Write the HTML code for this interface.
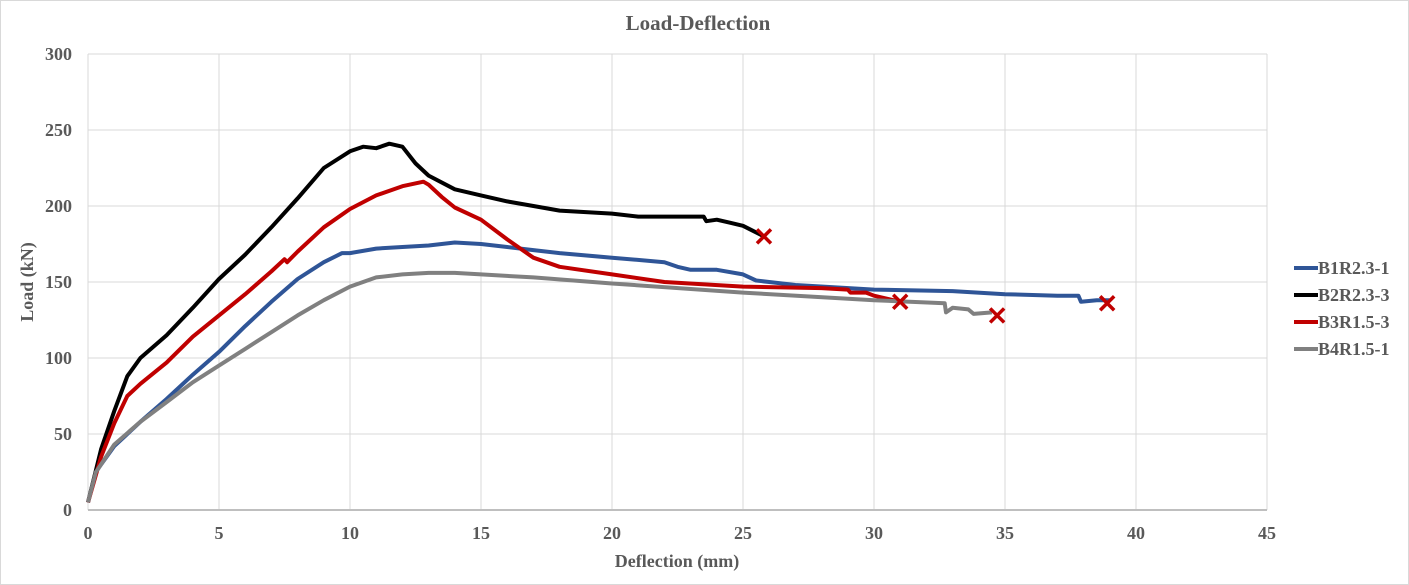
<!DOCTYPE html>
<html><head><meta charset="utf-8"><style>
body{margin:0;background:#fff}
svg{display:block;font-family:"Liberation Serif",serif;font-weight:bold;fill:#595959}
</style></head><body>
<svg id="c" width="1409" height="585">
<rect x="0.5" y="0.5" width="1408" height="584" fill="#fff" stroke="#d9d9d9"/>
<text x="698" y="30" text-anchor="middle" font-size="21">Load-Deflection</text>
<g id="grid"></g><g id="series"></g>
<text x="677" y="567" text-anchor="middle" font-size="18">Deflection (mm)</text>
<text transform="translate(33,282) rotate(-90)" text-anchor="middle" font-size="18">Load (kN)</text>
<g id="legend"></g>
</svg>
<script>
const xTicks=[0,5,10,15,20,25,30,35,40,45];
const yTicks=[0,50,100,150,200,250,300];
const seriesNames=["B1R2.3-1","B2R2.3-3","B3R1.5-3","B4R1.5-1"];
const seriesColors=["#2f5597","#000000","#c00000","#808080"];
const b1x=[0,0.3,0.5,1,2,3,4,5,6,7,8,9,9.7,10,11,12,13,14,15,16,17,18,20,22,22.5,23,24,25,25.5,26,27,30,33,35,37,37.8,37.9,38.5,39];
const b1y=[5,25,30,42,58,73,89,104,121,137,152,163,169,169,172,173,174,176,175,173,171,169,166,163,160,158,158,155,151,150,148,145,144,142,141,141,137,138,138];
const b2x=[0,0.5,1,1.5,2,3,4,5,6,7,8,9,10,10.5,11,11.5,12,12.5,13,14,15,16,17,18,20,21,23.5,23.6,24,24.5,25,25.8];
const b2y=[5,40,65,88,100,115,133,152,168,186,205,225,236,239,238,241,239,228,220,211,207,203,200,197,195,193,193,190,191,189,187,180];
const b3x=[0,0.5,1,1.5,2,3,4,5,6,7,7.5,7.6,8,9,10,11,12,12.8,13,13.5,14,15,16,17,18,20,22,25,28,29,29.1,29.7,30,31];
const b3y=[5,35,57,75,83,97,114,128,142,157,165,163,170,186,198,207,213,216,214,206,199,191,178,166,160,155,150,147,146,145,143,143,141,137];
const b4x=[0,0.3,0.5,1,2,3,4,5,6,7,8,9,10,11,12,13,14,15,17,20,25,30,32.7,32.75,33,33.6,33.8,34.5];
const b4y=[5,25,30,43,58,71,84,95,106,117,128,138,147,153,155,156,156,155,153,149,143,138,136,130,133,132,129,130];
const failX=[25.8,31,34.7,38.9];
const failY=[180,137,128,136];
const NS="http://www.w3.org/2000/svg";
const X=v=>88+v*(1267-88)/45, Y=v=>510-v*(510-54)/300;
function mk(t,p,a){const e=document.createElementNS(NS,t);for(const k in a)e.setAttribute(k,a[k]);p.appendChild(e);return e;}
const g=document.getElementById('grid');
xTicks.forEach(t=>{
 const l=mk('line',g,{x1:X(t),x2:X(t),y1:54,y2:510,stroke:'#d9d9d9'});
 
 
 const tx=mk('text',g,{x:X(t),y:539,'text-anchor':'middle','font-size':18});tx.textContent=t;
 
 
});
yTicks.forEach(t=>{
 const l=mk('line',g,{x1:88,x2:1267,y1:Y(t),y2:Y(t),stroke:t===0?'#bfbfbf':'#d9d9d9','stroke-width':t===0?2:1});
 
 
 const tx=mk('text',g,{x:72,y:Y(t)+6,'text-anchor':'end','font-size':18});tx.textContent=t;
 
 
});
const s=document.getElementById('series');
[[b1x,b1y],[b2x,b2y],[b3x,b3y],[b4x,b4y]].forEach((d,i)=>{
 const pts=d[0].map((v,j)=>X(v).toFixed(1)+','+Y(d[1][j]).toFixed(1)).join(' ');
 const p=mk('polyline',s,{points:pts,fill:'none',stroke:seriesColors[i],'stroke-width':4,'stroke-linejoin':'round'});
 
 
});
failX.forEach((v,i)=>{
 const cx=X(v),cy=Y(failY[i]);
 const m=mk('path',s,{d:`M${cx-7},${cy-7}L${cx+7},${cy+7}M${cx+7},${cy-7}L${cx-7},${cy+7}`,stroke:'#c00000','stroke-width':3.5});
 
 
});
const lg=document.getElementById('legend');
seriesNames.forEach((n,i)=>{
 const y=268+i*27;
 const gi=mk('g',lg,{});
 
 
 mk('line',gi,{x1:1294,x2:1318,y1:y,y2:y,stroke:seriesColors[i],'stroke-width':4});
 const t=mk('text',gi,{x:1318,y:y+6,'font-size':18});t.textContent=n;
});
</script>
</body></html>
